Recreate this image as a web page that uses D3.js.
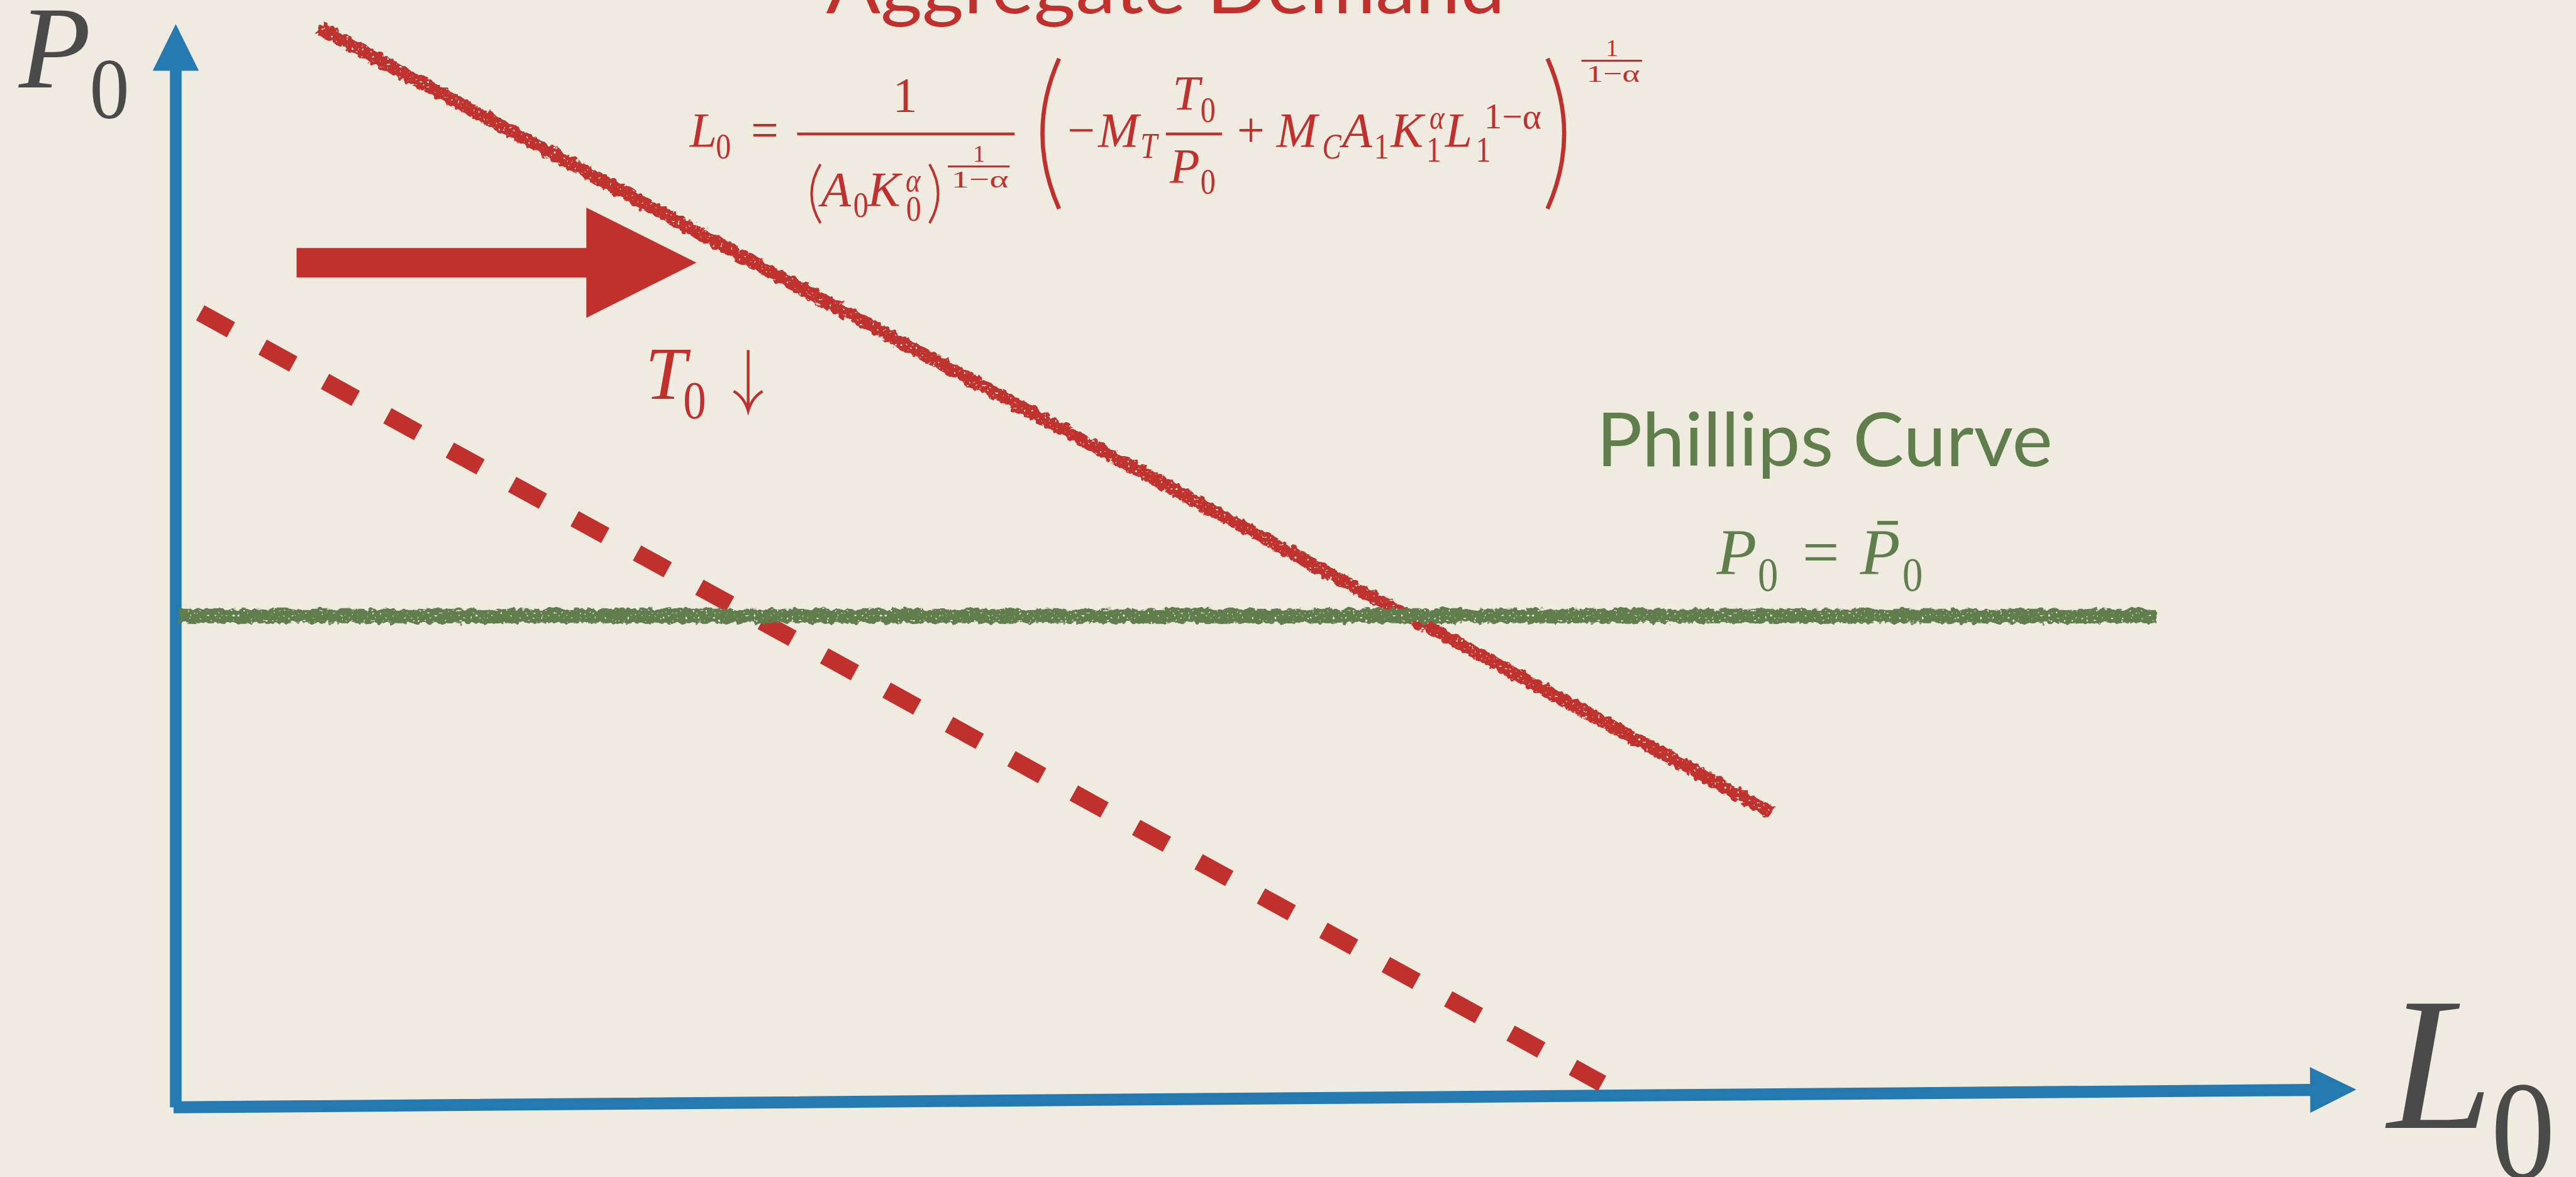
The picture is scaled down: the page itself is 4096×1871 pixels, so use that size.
<!DOCTYPE html>
<html><head><meta charset="utf-8">
<script src="https://cdn.jsdelivr.net/npm/d3@7"></script>
<style>html,body{margin:0;padding:0;background:#F0EBE1;overflow:hidden}</style>
</head><body>
<script>
// Labour market: a cut in T0 shifts aggregate demand right; the Phillips curve is flat at P̄0.
const axisP = [[0, 0], [0, 100]];
const axisL = [[-0.1, 0], [100, 1.64]];
const demandAfter = [[6.61, 99.64], [73.19, 27.22]];
const demandBefore = [[1.12, 73.34], [65.41, 2.21]];
const phillipsCurve = [[0.15, 45.35], [90.84, 45.35]];
const shiftArrow = [[5.54, 77.97], [23.88, 77.97]];
const curveTitles = ["Aggregate Demand", "Phillips Curve"];

const W = 4631, H = 2115;
const RED = "#C0312E", BLUE = "#247AB0", GREEN = "#607E4C", INK = "#4A4A4A";
const MATH = "'Liberation Serif', 'Times New Roman', serif";
const SANS = "Lato, 'Open Sans', sans-serif";

const svg = d3.select("body").append("svg")
  .attr("width", 4096).attr("height", 1871)
  .attr("viewBox", `0 0 ${W} ${H}`);
svg.append("rect").attr("width", W).attr("height", H).attr("fill", "#F0EBE1");

// chalky edge for the hand-drawn curves
const defs = svg.append("defs");
const f = defs.append("filter").attr("id", "chalk")
  .attr("filterUnits", "userSpaceOnUse").attr("x", 0).attr("y", 0).attr("width", W).attr("height", H);
f.append("feTurbulence").attr("type", "fractalNoise").attr("baseFrequency", 0.09)
  .attr("numOctaves", 2).attr("seed", 3).attr("result", "n");
f.append("feDisplacementMap").attr("in", "SourceGraphic").attr("in2", "n").attr("scale", 14)
  .attr("xChannelSelector", "R").attr("yChannelSelector", "G").attr("result", "d");
f.append("feTurbulence").attr("type", "fractalNoise").attr("baseFrequency", 0.22)
  .attr("numOctaves", 1).attr("seed", 11).attr("result", "s");
f.append("feColorMatrix").attr("in", "s").attr("type", "matrix")
  .attr("values", "0 0 0 0 0  0 0 0 0 0  0 0 0 0 0  14 0 0 0 -9.3").attr("result", "holes");
f.append("feComposite").attr("in", "d").attr("in2", "holes").attr("operator", "out");

const x = d3.scaleLinear().domain([0, 100]).range([316, 4236]);
const y = d3.scaleLinear().domain([0, 100]).range([1990, 43]);
const line = d3.line().x(d => x(d[0])).y(d => y(d[1]));

function arrowPath(a, b, shaft, headLen, headHalf) {
  const x0 = x(a[0]), y0 = y(a[1]), x1 = x(b[0]), y1 = y(b[1]);
  const len = Math.hypot(x1 - x0, y1 - y0), ux = (x1 - x0) / len, uy = (y1 - y0) / len;
  const nx = -uy, ny = ux, bx = x1 - ux * headLen, by = y1 - uy * headLen;
  return d3.line()([
    [x0 + nx * shaft / 2, y0 + ny * shaft / 2],
    [bx + nx * shaft / 2, by + ny * shaft / 2],
    [bx + nx * headHalf, by + ny * headHalf],
    [x1, y1],
    [bx - nx * headHalf, by - ny * headHalf],
    [bx - nx * shaft / 2, by - ny * shaft / 2],
    [x0 - nx * shaft / 2, y0 - ny * shaft / 2]
  ]) + "Z";
}

// axes
svg.append("path").attr("d", arrowPath(axisP[0], axisP[1], 21, 84, 41.5)).attr("fill", BLUE);
svg.append("path").attr("d", arrowPath(axisL[0], axisL[1], 21.5, 83, 41)).attr("fill", BLUE);

// aggregate demand before the tax cut (dashed)
svg.append("path").attr("d", line(demandBefore)).attr("fill", "none")
  .attr("stroke", RED).attr("stroke-width", 31).attr("stroke-dasharray", "63 65");

// aggregate demand after the tax cut
svg.append("path").attr("d", line(demandAfter)).attr("fill", "none")
  .attr("stroke", RED).attr("stroke-width", 23).attr("filter", "url(#chalk)");

// Phillips curve
svg.append("path").attr("d", line(phillipsCurve)).attr("fill", "none")
  .attr("stroke", GREEN).attr("stroke-width", 26).attr("filter", "url(#chalk)");

// shift arrow
svg.append("path").attr("d", arrowPath(shiftArrow[0], shiftArrow[1], 53, 198, 99)).attr("fill", RED);

// text helpers; subscripts are set slightly narrow
function txt(g, s, tx, ty, size, o = {}) {
  const t = g.append("text").attr("x", tx).attr("y", ty).text(s)
    .attr("font-family", o.family || MATH).attr("font-size", size)
    .attr("font-style", o.italic ? "italic" : "normal")
    .attr("fill", o.fill || RED);
  if (o.anchor) t.attr("text-anchor", o.anchor);
  if (o.len) {
    t.attr("textLength", o.len).attr("lengthAdjust", "spacingAndGlyphs");
  } else if (o.narrow) {
    const w = t.node().getComputedTextLength();
    if (w > 0) t.attr("textLength", w * o.narrow).attr("lengthAdjust", "spacingAndGlyphs");
  }
  return t;
}
function bar(g, x0, x1, yy, th, fill) {
  g.append("rect").attr("x", x0).attr("y", yy - th / 2).attr("width", x1 - x0).attr("height", th).attr("fill", fill);
}
function paren(g, xa, xb, y0, y1, sw, fill) {
  g.append("path").attr("d", `M${xa},${y0} Q${xb},${(y0 + y1) / 2} ${xa},${y1}`)
    .attr("fill", "none").attr("stroke", fill).attr("stroke-width", sw);
}

// axis names
const lab = svg.append("g");
txt(lab, "P", 34, 157, 212, { italic: true, fill: INK });
txt(lab, "0", 161, 212, 155, { fill: INK, narrow: 0.92 });
txt(lab, "L", 4292, 2027, 341, { italic: true, fill: INK });
txt(lab, "0", 4478, 2117, 251, { fill: INK, narrow: 0.92 });

// curve titles
const ttl = svg.append("g");
txt(ttl, curveTitles[0], 1485, 23, 133, { family: SANS, fill: RED, len: 1221 });
txt(ttl, curveTitles[1], 2870, 838, 133, { family: SANS, fill: GREEN, len: 820 });

// aggregate demand equation
const eq = svg.append("g");
const M = 88, S = 64, E = 44, n = 0.85;
txt(eq, "L", 1240, 263, M, { italic: true });
txt(eq, "0", 1287, 285, S, { narrow: n });
txt(eq, "=", 1350, 263, M);
bar(eq, 1433, 1824, 240.5, 5, RED);
txt(eq, "1", 1627, 200, M, { anchor: "middle" });
paren(eq, 1475, 1443, 295, 401, 4.5, RED);
txt(eq, "A", 1476, 370, M, { italic: true });
txt(eq, "0", 1534, 390, S, { narrow: n });
txt(eq, "K", 1560, 370, M, { italic: true });
txt(eq, "α", 1628, 343, 60, { italic: true, narrow: n });
txt(eq, "0", 1629, 397, S, { narrow: n });
paren(eq, 1671, 1702, 295, 401, 4.5, RED);
txt(eq, "1", 1760, 290, E, { anchor: "middle" });
bar(eq, 1704, 1815, 299, 3.5, RED);
txt(eq, "1−α", 1710, 337, E, { len: 103 });
paren(eq, 1904, 1844, 105, 375, 7.5, RED);
txt(eq, "−", 1919, 263, M);
txt(eq, "M", 1974, 263, M, { italic: true });
txt(eq, "T", 2050, 284, S, { italic: true, narrow: n });
bar(eq, 2096, 2197, 240.5, 5, RED);
txt(eq, "T", 2108, 197, M, { italic: true });
txt(eq, "0", 2158, 219, S, { narrow: n });
txt(eq, "P", 2103, 328, M, { italic: true });
txt(eq, "0", 2158, 348, S, { narrow: n });
txt(eq, "+", 2224, 263, M);
txt(eq, "M", 2295, 263, M, { italic: true });
txt(eq, "C", 2377, 285, S, { italic: true, narrow: 0.8 });
txt(eq, "A", 2413, 263, M, { italic: true });
txt(eq, "1", 2470, 285, S, { narrow: n });
txt(eq, "K", 2500, 263, M, { italic: true });
txt(eq, "α", 2570, 230, 60, { italic: true, narrow: n });
txt(eq, "1", 2564, 290, S, { narrow: n });
txt(eq, "L", 2598, 263, M, { italic: true });
txt(eq, "1−α", 2668, 230, S, { len: 103 });
txt(eq, "1", 2653, 290, S, { narrow: n });
paren(eq, 2782, 2842, 105, 375, 7.5, RED);
txt(eq, "1", 2898, 100, E, { anchor: "middle" });
bar(eq, 2843, 2952, 109, 3.5, RED);
txt(eq, "1−α", 2852, 147, E, { len: 96 });

// T0 falls
const tl = svg.append("g");
txt(tl, "T", 1160, 717, 133, { italic: true });
txt(tl, "0", 1228, 752, 96, { narrow: 0.86 });
tl.append("path").attr("d", "M1345,629 L1345,734 M1319,703 Q1338,714 1345,738 Q1352,714 1371,703")
  .attr("fill", "none").attr("stroke", RED).attr("stroke-width", 5);

// Phillips curve equation
const pe = svg.append("g");
txt(pe, "P", 3086, 1032, 118, { italic: true, fill: GREEN });
txt(pe, "0", 3160, 1062, 85, { fill: GREEN, narrow: 0.86 });
txt(pe, "=", 3240, 1032, 118, { fill: GREEN });
txt(pe, "P", 3344, 1032, 118, { italic: true, fill: GREEN });
bar(pe, 3375, 3412, 939.5, 7, GREEN);
txt(pe, "0", 3420, 1062, 85, { fill: GREEN, narrow: 0.86 });
</script>
</body></html>
